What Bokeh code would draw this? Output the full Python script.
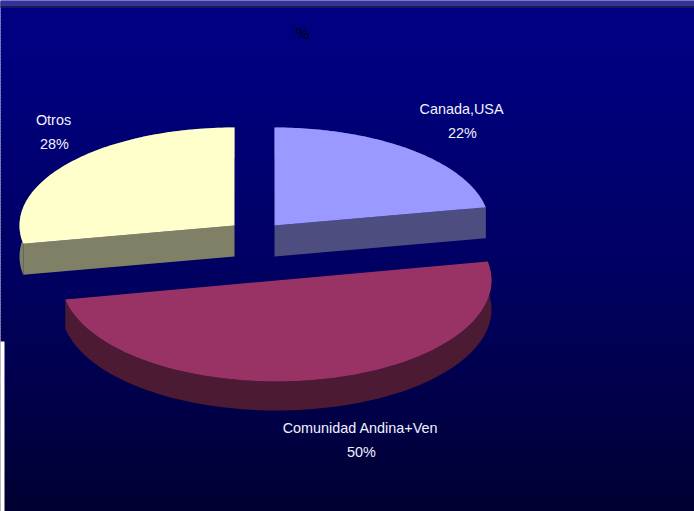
import numpy as np
from bokeh.core.properties import value
from bokeh.embed import file_html
from bokeh.models import Range1d
from bokeh.plotting import figure
from bokeh.resources import INLINE

# Shares of the pie, clockwise from twelve o'clock
regions = ["Canada,USA", "Comunidad Andina+Ven", "Otros"]
shares = [22, 50, 28]
top_colors = ["#9999FF", "#993366", "#FFFFCC"]
side_colors = ["#4D4D80", "#4D1A33", "#808066"]

# Exploded slice geometry and label anchors, in page pixels
centres = [(274, 225), (276, 280), (234, 225)]
radii_y = [98, 101, 98]
depths = [31, 29, 31]
label_xy = [(461, 108), (360, 427), (53, 119)]
RX = 215
W, H = 694, 511

p = figure(width=W, height=H, output_backend="svg", toolbar_location=None,
           x_range=Range1d(0, W), y_range=Range1d(H, 0),
           x_axis_location=None, y_axis_location=None,
           min_border=0, outline_line_color=None,
           background_fill_color=None, border_fill_color=None)
p.grid.visible = False

# Vertical background gradient, navy fading toward near-black
tops = np.arange(0, H, 3)
stops_y = [0, 60, 250, 400, 511]
stops_b = [128, 128, 102, 74, 50]
blues = np.interp(tops + 1.5, stops_y, stops_b).astype(int)
p.quad(left=-2, right=W + 2, top=tops, bottom=tops + 3.5,
       color=[f"#0000{b:02X}" for b in blues], line_color=None)

# Window strip along the top edge and the white notch at lower left
p.quad(left=-2, right=W + 2, top=-2, bottom=6, color="#333399", line_color=None)
p.quad(left=-2, right=W + 2, top=6, bottom=7.5, color="#1A1A4D", line_color=None)
p.quad(left=-2, right=4, top=341, bottom=H + 2, color="#FFFFFF", line_color=None)


def rim(start, end, ry):
    """Points on the tilted ellipse between two clockwise angles (degrees)."""
    a = np.radians(np.linspace(start, end, 90))
    return RX * np.sin(a), -ry * np.cos(a)


start = 0.0
for share, top, side, (cx, cy), ry_max, depth in zip(
        shares, top_colors, side_colors, centres, radii_y, depths):
    end = start + share * 3.6
    rx, ry = rim(start, end, ry_max)

    # Outer wall: the rim swept downward by the pie's thickness
    p.patch(np.r_[cx + rx, cx + rx[::-1]],
            np.r_[cy + ry, cy + ry[::-1] + depth],
            color=side, line_color=None)

    # Cut faces of the wedge that look toward the viewer
    faces = []
    if end < 90:
        faces.append(-1)
    if start > 180:
        faces.append(0)
    for k in faces:
        ex, ey = cx + rx[k], cy + ry[k]
        p.patch([cx, ex, ex, cx], [cy, ey, ey + depth, cy + depth],
                color=side, line_color=None)

    # Top surface
    p.patch(np.r_[cx, cx + rx], np.r_[cy, cy + ry], color=top, line_color=None)
    start = end

# Slice labels: name above, percentage below
font = value("Liberation Sans")
p.text([x for x, _ in label_xy], [y for _, y in label_xy], text=regions,
       text_font=font, text_font_size="14.4px", text_color="#F2F2FF",
       text_align="center", text_baseline="middle")
p.text([x + 1 for x, _ in label_xy], [y + 24 for _, y in label_xy],
       text=[f"{s}%" for s in shares],
       text_font=font, text_font_size="14.4px", text_color="#F2F2FF",
       text_align="center", text_baseline="middle")

p.text([302], [33], text=["%"], text_font=value("Liberation Sans Narrow"),
       text_font_size="17px", text_color="#000000",
       text_align="center", text_baseline="middle")

open("out.html", "w").write(file_html(p, INLINE))
